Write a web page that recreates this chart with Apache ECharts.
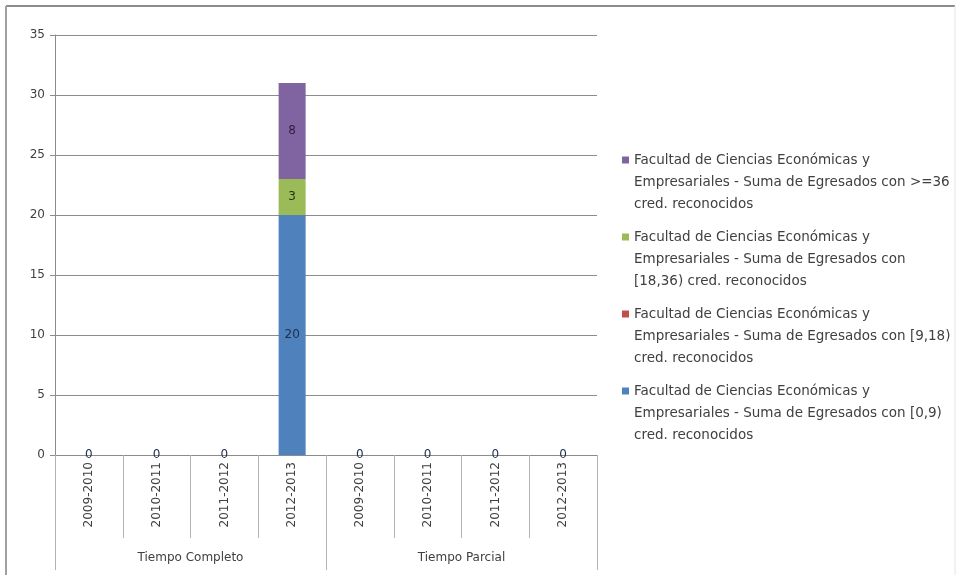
<!DOCTYPE html>
<html>
<head>
<meta charset="utf-8">
<script src="https://cdn.jsdelivr.net/npm/echarts@6/dist/echarts.min.js"></script>
<style>
html,body{margin:0;padding:0;background:#fff;}
#chart{width:959px;height:575px;}
</style>
</head>
<body>
<div id="chart"></div>
<script>
var years = ['2009-2010','2010-2011','2011-2012','2012-2013','2009-2010','2010-2011','2011-2012','2012-2013'];
var groups = ['Tiempo Completo','Tiempo Parcial'];
var yTicks = [0,5,10,15,20,25,30,35];

var seriesNames = [
  'Facultad de Ciencias Económicas y Empresariales - Suma de Egresados con [0,9) cred. reconocidos',
  'Facultad de Ciencias Económicas y Empresariales - Suma de Egresados con [9,18) cred. reconocidos',
  'Facultad de Ciencias Económicas y Empresariales - Suma de Egresados con [18,36) cred. reconocidos',
  'Facultad de Ciencias Económicas y Empresariales - Suma de Egresados con >=36 cred. reconocidos'
];
var legendText = [
  'Facultad de Ciencias Económicas y\nEmpresariales - Suma de Egresados con [0,9)\ncred. reconocidos',
  'Facultad de Ciencias Económicas y\nEmpresariales - Suma de Egresados con [9,18)\ncred. reconocidos',
  'Facultad de Ciencias Económicas y\nEmpresariales - Suma de Egresados con\n[18,36) cred. reconocidos',
  'Facultad de Ciencias Económicas y\nEmpresariales - Suma de Egresados con >=36\ncred. reconocidos'
];
var vals0_9   = [0,0,0,20,0,0,0,0];
var vals9_18  = [0,0,0,0,0,0,0,0];
var vals18_36 = [0,0,0,3,0,0,0,0];
var vals36    = [0,0,0,8,0,0,0,0];

var colors = ['#4f81bd','#c0504d','#9bbb59','#8064a2'];
var labelColors = ['#1f2d4a','#3a1a1a','#26330f','#2b1f3d'];
var FONT = 'DejaVu Sans';

function mkSeries(i, data, showZero){
  return {
    name: seriesNames[i],
    type: 'bar',
    stack: 'total',
    xAxisIndex: 0,
    barWidth: 27,
    data: data,
    itemStyle: {color: colors[i]},
    label: {
      show: true,
      position: 'inside',
      fontFamily: FONT,
      fontSize: 12,
      color: labelColors[i],
      formatter: function(p){ return (p.value === 0 && !showZero) ? '' : String(p.value); }
    }
  };
}

var chart = echarts.init(document.getElementById('chart'), null, {renderer:'canvas'});
chart.setOption({
  animation: false,
  backgroundColor: '#fff',
  textStyle: {fontFamily: FONT},
  grid: {left: 55, right: 362, top: 35, bottom: 120, containLabel: false},
  graphic: [
    {type:'line', shape:{x1:6,y1:6,x2:955,y2:6}, style:{stroke:'#8c8c8c', lineWidth:2}},
    {type:'line', shape:{x1:6,y1:6,x2:6,y2:575}, style:{stroke:'#a0a0a0', lineWidth:2}},
    {type:'line', shape:{x1:955,y1:6,x2:955,y2:575}, style:{stroke:'#e4e4e4', lineWidth:1}}
  ],
  legend: {
    orient: 'vertical',
    left: 617,
    top: 100,
    itemWidth: 7,
    itemHeight: 7,
    itemGap: -33,
    icon: 'rect',
    data: [seriesNames[3], seriesNames[2], seriesNames[1], seriesNames[0]],
    formatter: function(name){ return '\n\n' + legendText[seriesNames.indexOf(name)]; },
    textStyle: {fontFamily: FONT, fontSize: 13.5, color: '#404040', lineHeight: 22}
  },
  xAxis: [
    {
      type: 'category',
      data: years,
      position: 'bottom',
      axisLine: {show: true, lineStyle: {color: '#8c8c8c', width: 1}},
      axisTick: {show: true, interval: 0, length: 83, lineStyle: {color: '#b4b4b4'}},
      axisLabel: {interval: 0, rotate: 90, margin: 7, fontFamily: FONT, fontSize: 12, color: '#404040'}
    },
    {
      type: 'category',
      data: groups,
      position: 'bottom',
      axisLine: {show: false},
      axisTick: {show: true, interval: 0, length: 115, lineStyle: {color: '#b4b4b4'}},
      axisLabel: {interval: 0, margin: 97, fontFamily: FONT, fontSize: 12, color: '#404040'}
    }
  ],
  yAxis: {
    type: 'value',
    min: 0, max: 35, interval: 5,
    axisLine: {show: true, lineStyle: {color: '#8c8c8c'}},
    axisTick: {show: true, length: 5, lineStyle: {color: '#8c8c8c'}},
    axisLabel: {fontFamily: FONT, fontSize: 12, color: '#404040', margin: 10,
      formatter: function(v){ return yTicks.indexOf(v) >= 0 ? String(v) : ''; }},
    splitLine: {show: true, lineStyle: {color: '#8c8c8c', width: 1}}
  },
  series: [
    mkSeries(0, vals0_9, true),
    mkSeries(1, vals9_18, false),
    mkSeries(2, vals18_36, false),
    mkSeries(3, vals36, false)
  ]
});
</script>
</body>
</html>
